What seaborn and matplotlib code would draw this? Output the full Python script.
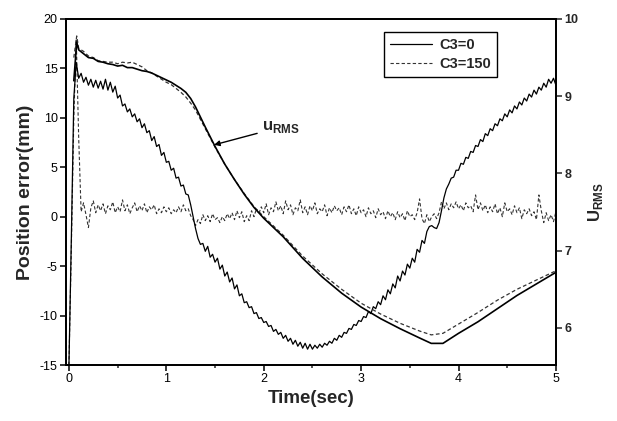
import numpy as np
import matplotlib
matplotlib.use("Agg")
import matplotlib.pyplot as plt
import seaborn as sns

sns.set_theme(style="ticks")
plt.rcParams['font.family'] = ['Liberation Sans', 'DejaVu Sans']
plt.rcParams['axes.unicode_minus'] = False
plt.rcParams['mathtext.fontset'] = 'custom'
plt.rcParams['mathtext.rm'] = 'Liberation Sans'
plt.rcParams['mathtext.bf'] = 'Liberation Sans:bold'

## Data ##

# position error, sampled every 0.025 s from 0 to 5 s
pos_time = np.round(np.arange(201) * 0.025, 3)

pos_c0 = [
    -15.0, -2.0, 12.0, 15.6, 14.0, 14.5, 13.6, 14.1, 13.3, 13.9,
    13.1, 13.8, 13.0, 13.7, 12.9, 13.9, 12.8, 13.6, 12.6, 13.2,
    12.0, 12.3, 11.2, 11.4, 10.6, 10.9, 10.1, 10.4, 9.6, 9.9,
    9.0, 9.4, 8.5, 8.7, 7.7, 8.1, 7.1, 7.3, 6.2, 6.5,
    5.5, 5.6, 4.7, 4.9, 3.9, 4.0, 3.1, 3.2, 2.3, 2.2,
    1.2, 0.0, -1.2, -2.2, -2.8, -2.7, -3.5, -3.0, -4.1, -3.8,
    -4.6, -4.2, -5.3, -4.9, -6.0, -5.6, -6.6, -6.2, -7.3, -6.9,
    -8.0, -7.8, -8.7, -8.6, -9.2, -9.1, -9.8, -9.7, -10.3, -10.2,
    -10.7, -10.6, -11.1, -11.0, -11.6, -11.4, -11.9, -11.7, -12.3, -12.0,
    -12.6, -12.3, -12.9, -12.5, -13.1, -12.7, -13.3, -12.8, -13.4, -12.9,
    -13.4, -13.0, -13.3, -12.9, -13.2, -12.8, -13.0, -12.6, -12.8, -12.3,
    -12.5, -12.0, -12.2, -11.7, -11.8, -11.3, -11.4, -10.9, -11.0, -10.5,
    -10.6, -10.1, -10.2, -9.6, -9.8, -9.1, -9.3, -8.6, -8.9, -8.0,
    -8.4, -7.4, -7.8, -6.8, -7.2, -6.0, -6.5, -5.5, -5.9, -4.8,
    -5.2, -4.2, -4.6, -3.3, -3.6, -2.4, -2.7, -1.5, -1.0, -0.9,
    -1.1, -1.2, -0.6, 0.6, 1.9, 2.8, 3.3, 3.9, 4.0, 4.7,
    4.7, 5.4, 5.3, 6.0, 5.9, 6.6, 6.5, 7.2, 7.1, 7.8,
    7.6, 8.4, 8.2, 8.9, 8.7, 9.4, 9.2, 9.9, 9.7, 10.4,
    10.1, 10.8, 10.5, 11.2, 10.9, 11.6, 11.3, 12.0, 11.7, 12.4,
    12.1, 12.8, 12.4, 13.1, 12.8, 13.5, 13.1, 13.9, 13.5, 14.0,
    13.3,
]

pos_c150 = [
    -15.0, -3.0, 10.0, 18.0, 8.0, 0.5, 1.4, 0.2, -1.1, 0.9,
    1.6, 0.4, 1.2, 0.6, 1.3, 0.3, 1.1, 0.7, 1.5, 0.4,
    1.0, 0.5, 1.7, 0.6, 1.2, 0.3, 0.9, 1.4, 0.5, 1.1,
    0.6, 1.3, 0.4, 1.0, 0.7, 1.2, 0.3, 0.8, 0.4, 1.0,
    0.5, 0.9, 0.3, 0.7, 0.4, 1.0, 0.5, 1.2, 0.6, 0.8,
    0.1, -0.3, -0.9, -0.3, -0.7, 0.2, -0.4, 0.1, -0.5, 0.3,
    -0.3, -0.1, -0.6, 0.0, -0.4, 0.3, -0.2, 0.4, -0.3, 0.6,
    -0.1, 0.5, -0.5, 0.1, -0.4, 0.6, 0.0, 0.8, 0.3, 1.0,
    0.4, 1.3, 0.2, 0.9, 0.5, 1.5, 0.6, 1.1, 0.3, 1.6,
    0.7, 1.2, 0.2, 0.9, 0.6, 1.7, 0.4, 1.0, 0.2, 1.1,
    0.6, 1.4, 0.3, 0.8, 0.5, 1.2, 0.1, 0.9, 0.4, 1.1,
    0.6, 0.9, 0.2, 1.0, 0.5, 1.2, 0.3, 0.8, 0.1, 1.0,
    0.4, 0.7, 0.0, 0.9, 0.3, 0.6, -0.1, 0.8, 0.2, 0.5,
    -0.2, 0.6, 0.0, 0.4, -0.3, 0.5, -0.1, 0.3, -0.4, 0.6,
    0.0, 0.2, -0.3, 0.4, 1.8, -0.2, -0.7, 0.2, -0.5, 0.0,
    0.3, -0.2, 0.4, 1.5, 0.8, 1.4, 0.7, 1.3, 0.9, 1.5,
    0.8, 1.2, 0.6, 1.4, 0.9, 1.1, 0.5, 2.2, 0.7, 1.4,
    0.6, 1.2, 0.4, 1.0, 0.5, 1.3, 0.3, 0.9, 0.0, 1.4,
    0.5, 0.8, 0.2, 1.1, 0.4, 0.9, -0.2, 0.7, 0.3, 0.8,
    0.1, 0.5, -0.3, 2.2, 0.6, -0.6, 0.4, -0.4, 0.2, -0.5,
    0.5,
]

# u_RMS (right axis)
u_time = [0.05, 0.08, 0.1, 0.15, 0.2, 0.25, 0.3, 0.35, 0.4, 0.45,
          0.5, 0.55, 0.6, 0.65, 0.7, 0.75, 0.8, 0.85, 0.9, 0.95,
          1.0, 1.05, 1.1, 1.15, 1.2, 1.25, 1.3, 1.4, 1.5, 1.6,
          1.7, 1.8, 1.9, 2.0, 2.2, 2.4, 2.6, 2.8, 3.0, 3.2,
          3.4, 3.6, 3.72, 3.84, 4.0, 4.2, 4.4, 4.6, 4.8, 5.0]

u_c0 = [9.20, 9.70, 9.60, 9.55, 9.50, 9.49, 9.45, 9.44, 9.42, 9.41,
        9.39, 9.40, 9.37, 9.37, 9.35, 9.33, 9.32, 9.30, 9.27, 9.24,
        9.21, 9.18, 9.14, 9.10, 9.05, 8.97, 8.86, 8.60, 8.35, 8.12,
        7.92, 7.73, 7.56, 7.42, 7.18, 6.90, 6.66, 6.45, 6.27, 6.12,
        5.99, 5.87, 5.80, 5.80, 5.93, 6.08, 6.25, 6.42, 6.57, 6.72]

u_c150 = [9.50, 9.78, 9.62, 9.58, 9.52, 9.50, 9.46, 9.45, 9.44, 9.44,
          9.42, 9.44, 9.43, 9.44, 9.41, 9.38, 9.33, 9.30, 9.26, 9.22,
          9.18, 9.15, 9.10, 9.05, 8.99, 8.91, 8.82, 8.58, 8.34, 8.12,
          7.92, 7.74, 7.57, 7.44, 7.20, 6.93, 6.70, 6.50, 6.32, 6.18,
          6.06, 5.96, 5.91, 5.93, 6.05, 6.20, 6.36, 6.50, 6.62, 6.74]

labels = ["C3=0", "C3=150"]

## Plot ##

fig = plt.figure(figsize=(6.17, 4.21), dpi=100)
ax = fig.add_axes([0.107, 0.133, 0.794, 0.822])
ax2 = ax.twinx()

sns.lineplot(x=pos_time, y=pos_c150, ax=ax, color="#333333", lw=0.8,
             linestyle=(0, (3, 2)))
sns.lineplot(x=pos_time, y=pos_c0, ax=ax, color="black", lw=0.9)
sns.lineplot(x=u_time, y=u_c150, ax=ax2, color="#333333", lw=0.9,
             linestyle=(0, (3, 2)))
sns.lineplot(x=u_time, y=u_c0, ax=ax2, color="black", lw=1.2)

ax.set_xlim(-0.03, 5)
ax.set_ylim(-15, 20)
ax2.set_ylim(5.52, 10.0)

ax.set_xticks([0, 1, 2, 3, 4, 5])
ax.set_xticks([0.5, 1.5, 2.5, 3.5, 4.5], minor=True)
ax.set_yticks([-15, -10, -5, 0, 5, 10, 15, 20])
ax2.set_yticks([6, 7, 8, 9, 10])

ax.tick_params(axis="both", which="major", direction="out", length=4,
               width=1.1, labelsize=9, colors="black", pad=2)
ax.tick_params(axis="x", which="minor", direction="out", length=2.5,
               width=1.1)
ax2.tick_params(axis="y", direction="out", length=4, width=1.1,
                labelsize=9, pad=2)
for lab in ax2.get_yticklabels():
    lab.set_fontweight("bold")

for a in (ax, ax2):
    for s in a.spines.values():
        s.set_linewidth(1.3)
        s.set_color("black")

ax.set_xlabel("Time(sec)", fontsize=13.5, fontweight="bold", labelpad=3)
ax.set_ylabel("Position error(mm)", fontsize=14, fontweight="bold",
              labelpad=4)
ax2.set_ylabel(r"$\mathbf{U}_{\mathbf{RMS}}$", fontsize=12, rotation=90)
ax2.yaxis.set_label_coords(1.062, 0.47)

ax2.annotate(r"$\mathbf{u}_{\mathbf{RMS}}$", xy=(1.49, 8.37),
             xytext=(1.98, 8.6), fontsize=12, ha="left", va="center",
             arrowprops=dict(arrowstyle="-|>", color="black", lw=1.0,
                             mutation_scale=8, shrinkA=1, shrinkB=0))

handles = [ax.lines[1], ax.lines[0]]
leg = ax.legend(handles, labels, loc="upper right",
                bbox_to_anchor=(0.88, 0.962), borderaxespad=0,
                fancybox=False, framealpha=1, edgecolor="black",
                handlelength=2.9, prop={"weight": "bold", "size": 10.5},
                borderpad=0.4, labelspacing=0.35, handletextpad=0.5)
leg.get_frame().set_linewidth(1.0)

fig.savefig("out.png", dpi=100)
